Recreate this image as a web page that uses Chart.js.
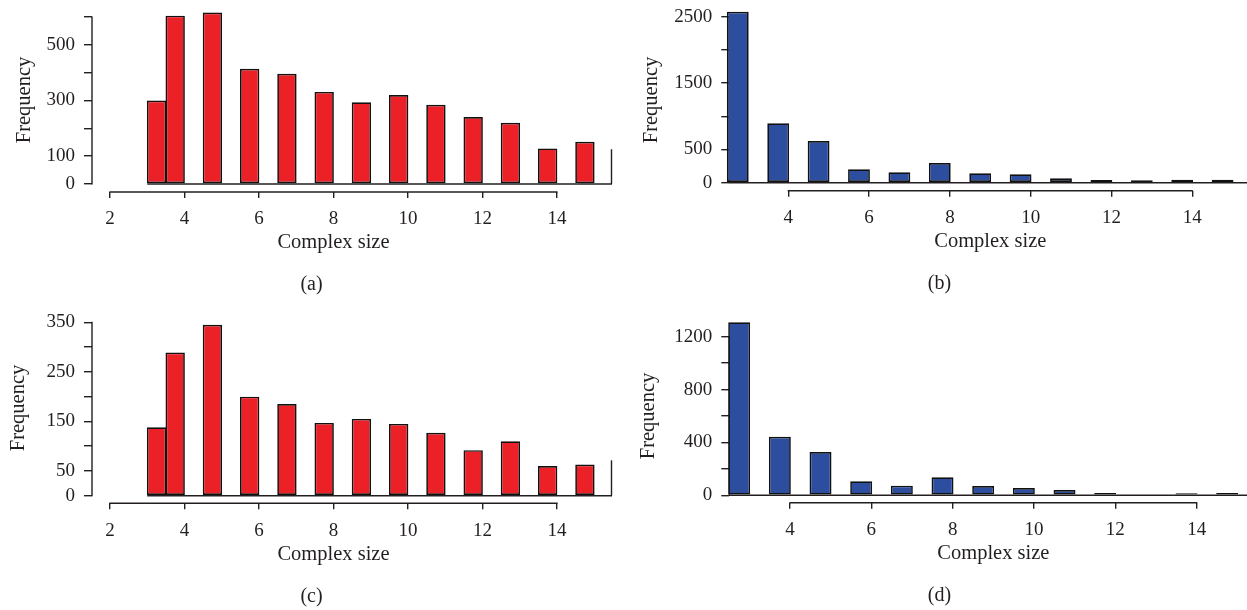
<!DOCTYPE html>
<html>
<head>
<meta charset="utf-8">
<script src="https://cdn.jsdelivr.net/npm/chart.js"></script>
<style>
  body { margin: 0; background: #fff; }
  .panel { position: absolute; }
</style>
</head>
<body>
<div class="panel" style="left:0px;top:0px"><canvas id="chartA" width="623" height="305"></canvas></div>
<div class="panel" style="left:632px;top:0px"><canvas id="chartB" width="615" height="305"></canvas></div>
<div class="panel" style="left:0px;top:305px"><canvas id="chartC" width="623" height="305"></canvas></div>
<div class="panel" style="left:632px;top:305px"><canvas id="chartD" width="615" height="305"></canvas></div>
<script>
// complex sizes (x) and frequency per size
const sizes = [3, 4, 5, 6, 7, 8, 9, 10, 11, 12, 13, 14, 15];
const countsA = [300, 605, 616, 414, 396, 331, 294, 320, 285, 241, 220, 128, 152];
const countsB = [2575, 894, 628, 202, 157, 297, 142, 127, 66, 41, 36, 45, 45];
const countsC = [138, 289, 345, 200, 185, 147, 155, 145, 127, 92, 110, 60, 63];
const countsD = [1309, 443, 328, 106, 73, 136, 70, 55, 40, 17, 0, 15, 17];

// tick values and which of them carry a label
const xTicksAC = [2, 4, 6, 8, 10, 12, 14];
const xTicksBD = [4, 6, 8, 10, 12, 14];
const yTicksA = [0, 100, 200, 300, 400, 500, 600];
const yLabelsA = [0, 100, 300, 500];
const yTicksB = [0, 500, 1000, 1500, 2000, 2500];
const yLabelsB = [0, 500, 1500, 2500];
const yTicksC = [0, 50, 100, 150, 200, 250, 300, 350];
const yLabelsC = [0, 50, 150, 250, 350];
const yTicksD = [0, 200, 400, 600, 800, 1000, 1200];
const yLabelsD = [0, 400, 800, 1200];

const RED = '#EC2027';
const BLUE = '#2D4E9F';
const INK = '#231f20';
const FONT = 'Liberation Serif';

// R-style axes: lines only over the tick range, detached x axis, baseline
const rAxes = {
  id: 'rAxes',
  beforeDatasetsDraw(chart, args, o) {
    const { ctx, chartArea: a, scales: { x, y } } = chart;
    const seg = (x1, y1, x2, y2) => {
      ctx.beginPath(); ctx.moveTo(x1, y1); ctx.lineTo(x2, y2); ctx.stroke();
    };
    ctx.save();
    ctx.strokeStyle = INK;
    ctx.lineWidth = 1.4;
    const y0 = y.getPixelForValue(0);
    const bx = o.baseFrom == null ? a.left : x.getPixelForValue(o.baseFrom);
    seg(bx, y0, a.right, y0);
    if (o.edgeTop != null) seg(a.right - 0.5, y0, a.right - 0.5, y.getPixelForValue(o.edgeTop));
    seg(a.left, y.getPixelForValue(o.yTicks[0]) + 0.6, a.left, y.getPixelForValue(o.yTicks[o.yTicks.length - 1]) - 0.6);
    seg(x.getPixelForValue(o.xTicks[0]) - 0.6, a.bottom, x.getPixelForValue(o.xTicks[o.xTicks.length - 1]) + 0.6, a.bottom);
    ctx.restore();
  },
  afterDraw(chart, args, o) {
    const { ctx, chartArea: a, scales: { x } } = chart;
    ctx.save();
    ctx.fillStyle = INK;
    ctx.textAlign = 'center';
    ctx.textBaseline = 'middle';
    const cx = (x.getPixelForValue(o.xTicks[0]) + x.getPixelForValue(o.xTicks[o.xTicks.length - 1])) / 2;
    ctx.font = '20.5px "' + FONT + '"';
    ctx.fillText('Complex size', cx, a.bottom + 51);
    ctx.font = '20px "' + FONT + '"';
    ctx.fillText(o.panel, chart.width / 2, a.bottom + 93);
    ctx.restore();
  }
};

function makePanel(id, counts, color, p) {
  const points = sizes.map((s, i) => ({
    x: Math.max(s, p.binStart + 0.5) - 0.25,
    y: counts[i]
  }));
  return new Chart(document.getElementById(id), {
    type: 'bar',
    data: {
      datasets: [{
        data: points,
        backgroundColor: color,
        borderColor: '#111',
        borderWidth: 1.7,
        borderSkipped: false,
        barPercentage: p.barPct,
        categoryPercentage: 1,
        clip: false
      }]
    },
    options: {
      responsive: false,
      animation: false,
      layout: { padding: { left: 0, right: p.padRight, top: p.padTop, bottom: 0 } },
      plugins: {
        legend: { display: false },
        tooltip: { enabled: false },
        rAxes: { xTicks: p.xTicks, yTicks: p.yTicks, baseFrom: p.baseFrom, edgeTop: p.edgeTop, panel: p.panel }
      },
      scales: {
        x: {
          type: 'linear',
          offset: false,
          min: p.xMin,
          max: p.xMax,
          afterBuildTicks: s => { s.ticks = p.xTicks.map(v => ({ value: v })); },
          afterFit: s => { s.height = p.xHeight; s.paddingLeft = 0; s.paddingRight = 0; },
          border: { display: false },
          grid: { offset: false, drawOnChartArea: false, tickLength: 6, color: INK, lineWidth: 1.4 },
          ticks: { autoSkip: false, maxRotation: 0, padding: 10, color: INK, font: { family: FONT, size: 19 } }
        },
        y: {
          min: p.yMin,
          max: p.yMax,
          afterBuildTicks: s => { s.ticks = p.yTicks.map(v => ({ value: v })); },
          afterFit: s => { s.width = p.yWidth; s.paddingTop = 0; s.paddingBottom = 0; },
          border: { display: false },
          grid: { drawOnChartArea: false, tickLength: 8, color: INK, lineWidth: 1.4 },
          ticks: {
            autoSkip: false,
            padding: 9,
            color: INK,
            font: { family: FONT, size: 19 },
            callback: v => (p.yLabels.includes(v) ? String(v) : '')
          },
          title: {
            display: true,
            text: 'Frequency',
            color: INK,
            font: { family: FONT, size: 20.5 },
            padding: { top: p.titlePad, bottom: 0 }
          }
        }
      }
    },
    plugins: [rAxes]
  });
}

makePanel('chartA', countsA, RED, {
  panel: '(a)', binStart: 3, barPct: 1.04, baseFrom: 3, edgeTop: 125,
  xTicks: xTicksAC, yTicks: yTicksA, yLabels: yLabelsA,
  xMin: 1.517, xMax: 15.477, yMin: -28.7, yMax: 632.4,
  yWidth: 92, xHeight: 113, padRight: 11, padTop: 8, titlePad: 12
});
makePanel('chartB', countsB, BLUE, {
  panel: '(b)', binStart: 2.5, barPct: 0.54, baseFrom: null, edgeTop: null,
  xTicks: xTicksBD, yTicks: yTicksB, yLabels: yLabelsB,
  xMin: 2.54, xMax: 15.354, yMin: -120.5, yMax: 2611,
  yWidth: 97.3, xHeight: 114.3, padRight: 0, padTop: 9.3, titlePad: 7.3
});
makePanel('chartC', countsC, RED, {
  panel: '(c)', binStart: 3, barPct: 1.04, baseFrom: 3, edgeTop: 71.5,
  xTicks: xTicksAC, yTicks: yTicksC, yLabels: yLabelsC,
  xMin: 1.517, xMax: 15.477, yMin: -15.3, yMax: 369.4,
  yWidth: 92, xHeight: 106.7, padRight: 11, padTop: 7.7, titlePad: 6.3
});
makePanel('chartD', countsD, BLUE, {
  panel: '(d)', binStart: 2.5, barPct: 0.54, baseFrom: null, edgeTop: null,
  xTicks: xTicksBD, yTicks: yTicksD, yLabels: yLabelsD,
  xMin: 2.507, xMax: 15.237, yMin: -56, yMax: 1256,
  yWidth: 97.3, xHeight: 107.3, padRight: 0, padTop: 24.3, titlePad: 4.3
});
</script>
</body>
</html>
